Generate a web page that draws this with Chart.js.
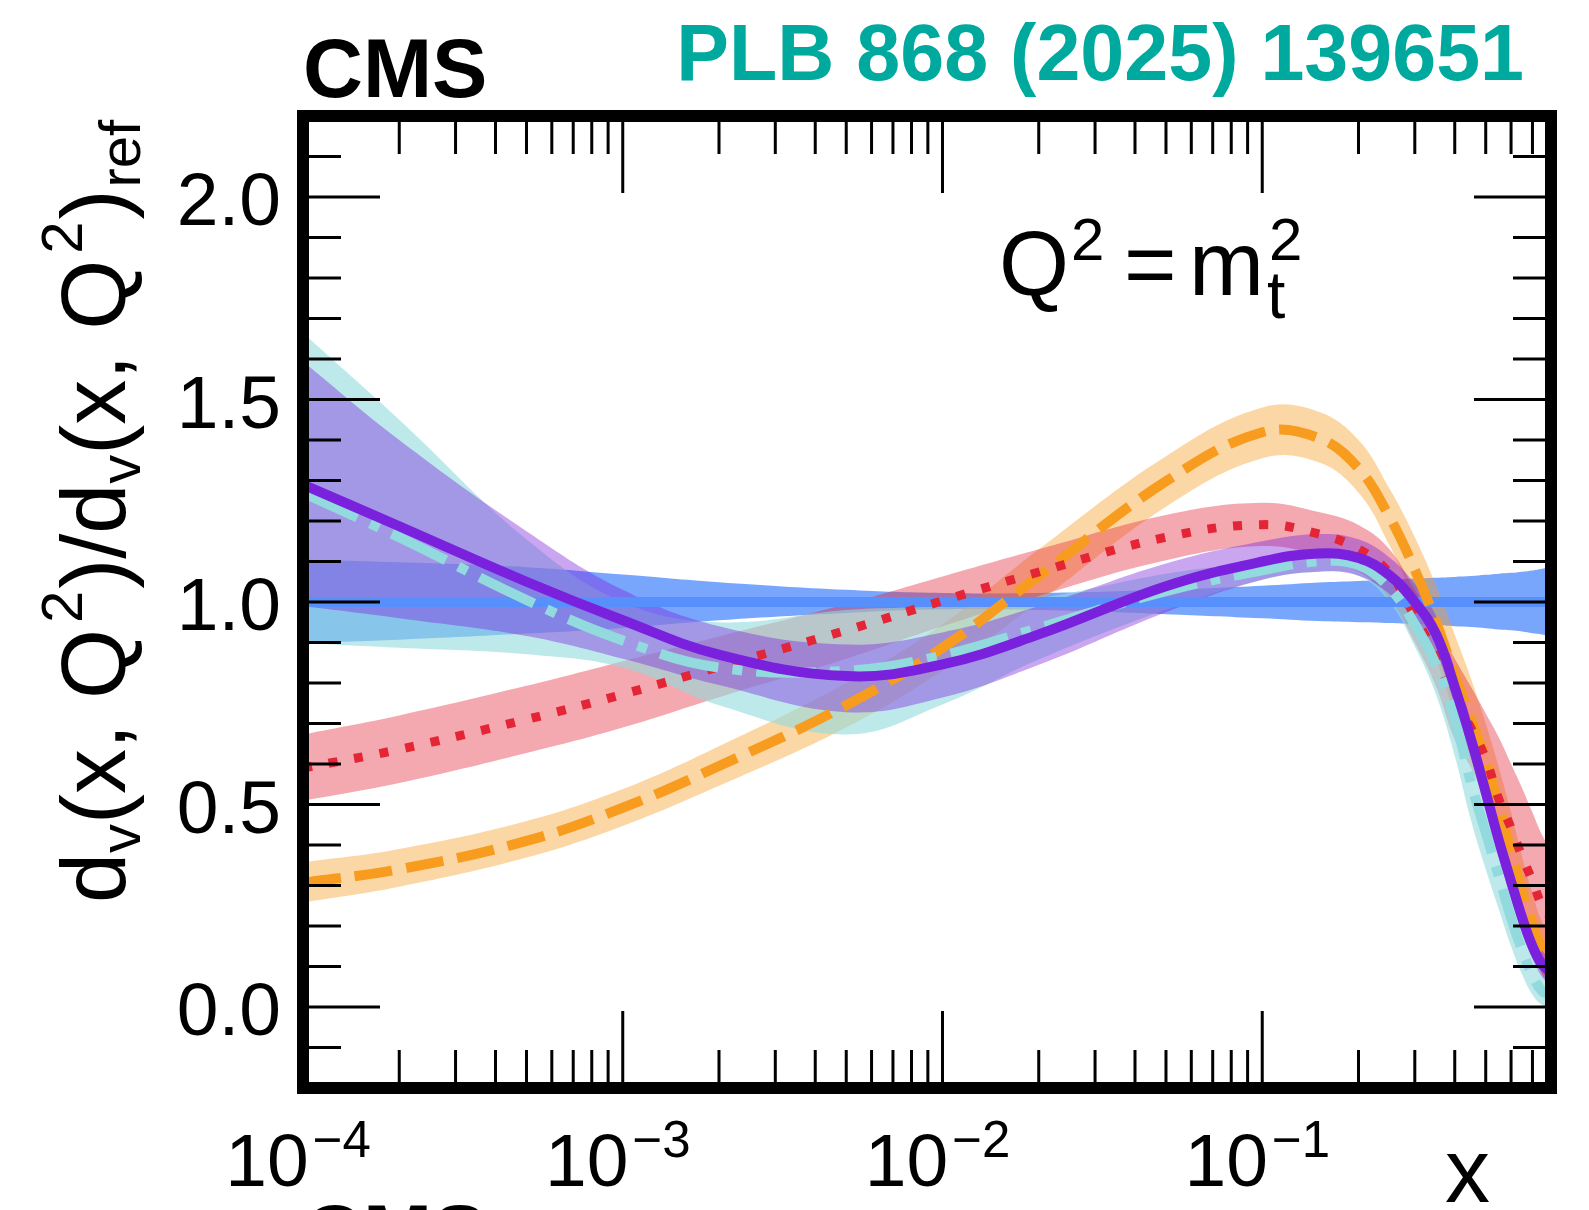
<!DOCTYPE html>
<html>
<head>
<meta charset="utf-8">
<script src="https://cdn.jsdelivr.net/npm/chart.js@4.4.1/dist/chart.umd.min.js"></script>
<style>
  html, body { margin: 0; padding: 0; background: #fff; }
  canvas { display: block; }
</style>
</head>
<body>
<canvas id="c" width="1589" height="1210"></canvas>
<script>
// d_v ratio to reference at Q^2 = m_t^2
const xs = [1e-4, 2e-4, 5e-4, 1e-3, 2e-3, 5e-3, 1e-2, 2e-2, 5e-2, 0.1, 0.15, 0.2, 0.25, 0.3, 0.35, 0.4, 0.45, 0.5, 0.55, 0.6, 0.65, 0.7, 0.75, 0.8];

// reference (blue)
const refMid = [1.0, 1.0, 1.0, 1.0, 1.0, 1.0, 1.0, 1.0, 1.0, 1.0, 1.0, 1.0, 1.0, 1.0, 1.0, 1.0, 1.0, 1.0, 1.0, 1.0, 1.0, 1.0, 1.0, 1.0];
const refLo  = [0.899, 0.907, 0.922, 0.936, 0.955, 0.973, 0.982, 0.98, 0.97, 0.96, 0.953, 0.95, 0.948, 0.945, 0.943, 0.94, 0.938, 0.935, 0.932, 0.93, 0.927, 0.923, 0.92, 0.915];
const refHi  = [1.105, 1.098, 1.086, 1.068, 1.049, 1.03, 1.022, 1.022, 1.03, 1.04, 1.048, 1.052, 1.055, 1.058, 1.06, 1.062, 1.064, 1.067, 1.07, 1.072, 1.075, 1.078, 1.082, 1.087];

// orange dashed
const orangeMid = [0.307, 0.34, 0.41, 0.492, 0.595, 0.745, 0.887, 1.064, 1.298, 1.419, 1.405, 1.33, 1.21, 1.08, 0.95, 0.82, 0.71, 0.61, 0.495, 0.385, 0.285, 0.205, 0.145, 0.12];
const orangeLo  = [0.258, 0.297, 0.369, 0.447, 0.546, 0.69, 0.83, 1.0, 1.235, 1.355, 1.345, 1.27, 1.14, 1.0, 0.86, 0.72, 0.61, 0.52, 0.4, 0.29, 0.2, 0.13, 0.08, 0.06];
const orangeHi  = [0.357, 0.39, 0.459, 0.538, 0.644, 0.8, 0.945, 1.13, 1.36, 1.48, 1.47, 1.4, 1.28, 1.16, 1.04, 0.92, 0.81, 0.7, 0.59, 0.48, 0.37, 0.28, 0.21, 0.18];

// red dotted
const redMid = [0.59, 0.636, 0.71, 0.772, 0.84, 0.93, 1.003, 1.074, 1.16, 1.191, 1.168, 1.131, 1.071, 0.965, 0.864, 0.759, 0.688, 0.613, 0.512, 0.442, 0.371, 0.311, 0.25, 0.22];
const redLo  = [0.509, 0.553, 0.627, 0.69, 0.765, 0.86, 0.94, 1.015, 1.103, 1.138, 1.115, 1.075, 1.01, 0.9, 0.79, 0.66, 0.59, 0.5, 0.37, 0.29, 0.21, 0.15, 0.08, 0.05];
const redHi  = [0.673, 0.72, 0.793, 0.854, 0.915, 0.995, 1.063, 1.13, 1.215, 1.245, 1.222, 1.19, 1.13, 1.03, 0.94, 0.86, 0.79, 0.725, 0.665, 0.6, 0.54, 0.48, 0.425, 0.39];

// cyan dash-dot
const cyanMid = [1.27, 1.16, 1.005, 0.905, 0.838, 0.83, 0.868, 0.936, 1.027, 1.078, 1.1, 1.091, 1.035, 0.945, 0.844, 0.713, 0.552, 0.431, 0.321, 0.22, 0.14, 0.079, 0.039, 0.03];
const cyanLo  = [0.899, 0.887, 0.871, 0.838, 0.745, 0.673, 0.747, 0.858, 0.981, 1.055, 1.075, 1.065, 1.0, 0.89, 0.77, 0.62, 0.46, 0.34, 0.24, 0.15, 0.08, 0.03, 0.005, 0.0];
const cyanHi  = [1.664, 1.45, 1.155, 1.0, 0.95, 0.98, 0.99, 1.01, 1.07, 1.1, 1.12, 1.115, 1.07, 0.99, 0.9, 0.78, 0.63, 0.51, 0.4, 0.29, 0.2, 0.13, 0.08, 0.07];

// purple solid
const purpleMid = [1.29, 1.187, 1.05, 0.955, 0.87, 0.817, 0.846, 0.92, 1.039, 1.1, 1.12, 1.109, 1.066, 1.0, 0.92, 0.79, 0.66, 0.53, 0.41, 0.31, 0.22, 0.15, 0.105, 0.085];
const purpleLo  = [0.99, 0.96, 0.916, 0.86, 0.795, 0.728, 0.764, 0.845, 0.975, 1.055, 1.075, 1.065, 1.02, 0.955, 0.875, 0.745, 0.615, 0.49, 0.37, 0.27, 0.185, 0.12, 0.075, 0.055];
const purpleHi  = [1.594, 1.4, 1.175, 1.03, 0.94, 0.895, 0.925, 0.99, 1.095, 1.15, 1.168, 1.155, 1.11, 1.045, 0.965, 0.835, 0.705, 0.575, 0.45, 0.35, 0.255, 0.185, 0.14, 0.115];

// axes
const X_MIN = 1e-4, X_MAX = 0.8;
const Y_MIN = -0.2, Y_MAX = 2.2;
const yTickValues = [0, 0.5, 1, 1.5, 2];
const yTickLabels = ['0.0', '0.5', '1.0', '1.5', '2.0'];
const xTickValues = [1e-4, 1e-3, 1e-2, 1e-1];
const xTickExps = ['\u22124', '\u22123', '\u22122', '\u22121'];

const FONT = "'Liberation Sans', Arial, Helvetica, sans-serif";
const TENSION = 0.4;

const pts = arr => xs.map((x, i) => ({ x, y: arr[i] }));

function band(lo, hi, color, order) {
  const common = { pointRadius: 0, borderWidth: 0, borderColor: 'rgba(0,0,0,0)', tension: TENSION, order, clip: 0 };
  return [
    { ...common, data: pts(hi), fill: '+1', backgroundColor: color },
    { ...common, data: pts(lo), fill: false }
  ];
}

function curve(mid, color, width, dash, order) {
  return {
    data: pts(mid), borderColor: color, borderWidth: width, borderDash: dash, borderCapStyle: 'butt',
    fill: false, pointRadius: 0, tension: TENSION, order, clip: 0
  };
}

// bands first (higher order = drawn underneath), then the central lines
const datasets = [
  ...band(refLo, refHi, 'rgba(87,144,252,0.8)', 100),
  ...band(orangeLo, orangeHi, 'rgba(248,156,32,0.4)', 90),
  ...band(redLo, redHi, 'rgba(228,37,54,0.4)', 80),
  ...band(cyanLo, cyanHi, 'rgba(146,218,221,0.6)', 70),
  ...band(purpleLo, purpleHi, 'rgba(122,33,221,0.4)', 60),
  curve(refMid, '#5790fc', 10, [], 50),
  curve(orangeMid, '#f89c20', 10, [38, 14], 40),
  curve(redMid, '#e42536', 9, [9, 17], 30),
  curve(cyanMid, '#92dadd', 10, [60, 14, 10, 14], 20),
  curve(purpleMid, '#7a21dd', 10, [], 10)
];

// rich text: parts drawn one after another; sub/superscripts via dy
function rich(ctx, x, y, parts, draw = true) {
  let cx = x;
  for (const p of parts) {
    if (p.x !== undefined) cx = p.x;
    cx += p.gap || 0;
    ctx.font = (p.bold ? 'bold ' : '') + p.size + 'px ' + FONT;
    if (draw) ctx.fillText(p.t, cx, y + (p.dy || 0));
    if (!p.hold) cx += ctx.measureText(p.t).width;
  }
  return cx - x;
}

const framePlugin = {
  id: 'frame',
  afterDraw(chart) {
    const { ctx, scales: { x, y } } = chart;
    const L = x.getPixelForValue(X_MIN), R = x.getPixelForValue(X_MAX);
    const T = y.getPixelForValue(Y_MAX), B = y.getPixelForValue(Y_MIN);
    ctx.save();
    ctx.strokeStyle = '#000';
    ctx.lineCap = 'butt';

    // y ticks, inward on both sides
    ctx.lineWidth = 3;
    for (let i = -1; i < 22; i++) {
      const py = y.getPixelForValue(i / 10);
      const len = i % 5 === 0 ? 77 : 38;
      ctx.beginPath();
      ctx.moveTo(L, py); ctx.lineTo(L + len, py);
      ctx.moveTo(R, py); ctx.lineTo(R - len, py);
      ctx.stroke();
    }
    // x ticks (log decades), inward top and bottom
    for (let e = -4; e <= -1; e++) {
      for (let m = 1; m <= 9; m++) {
        const v = m * Math.pow(10, e);
        if (v <= X_MIN * 1.001 || v >= X_MAX * 0.999) continue;
        const px = x.getPixelForValue(v);
        const len = m === 1 ? 77 : 38;
        ctx.beginPath();
        ctx.moveTo(px, B); ctx.lineTo(px, B - len);
        ctx.moveTo(px, T); ctx.lineTo(px, T + len);
        ctx.stroke();
      }
    }
    // frame
    ctx.lineWidth = 12;
    ctx.strokeRect(L, T, R - L, B - T);

    ctx.fillStyle = '#000';
    ctx.textBaseline = 'alphabetic';

    // y tick labels
    ctx.textAlign = 'right';
    ctx.font = '75px ' + FONT;
    yTickValues.forEach((v, i) => ctx.fillText(yTickLabels[i], 281, y.getPixelForValue(v) + 28));

    // x tick labels 10^n
    ctx.textAlign = 'left';
    xTickValues.forEach((v, i) => {
      const parts = [{ t: '10', size: 75 }, { t: xTickExps[i], size: 51, dy: -29, gap: 4 }];
      const w = rich(ctx, 0, 0, parts, false);
      rich(ctx, x.getPixelForValue(v) - w / 2 - 5, 1186, parts);
    });

    // axis titles
    ctx.font = '90px ' + FONT;
    ctx.fillText('x', 1445, 1202);

    ctx.save();
    ctx.translate(125, 903);
    ctx.rotate(-Math.PI / 2);
    rich(ctx, 0, 0, [
      { t: 'd', size: 90 }, { t: 'v', size: 58, dy: 15 },
      { t: '(x, Q', size: 90 }, { t: '2', size: 58, dy: -43, gap: 6 },
      { t: ')/d', size: 90, gap: 2 }, { t: 'v', size: 58, dy: 15 },
      { t: '(x, Q', size: 90 }, { t: '2', size: 58, dy: -43, gap: 6 },
      { t: ')', size: 90, gap: 2 }, { t: 'ref', size: 58, dy: 15, gap: 2 }
    ]);
    ctx.restore();

    // Q^2 = m_t^2
    rich(ctx, 999, 295, [
      { t: 'Q', size: 90 }, { t: '2', size: 60, dy: -35, gap: 2 },
      { t: '=', size: 90, x: 1124 }, { t: 'm', size: 90, x: 1189 },
      { t: 't', size: 66, dy: 23, gap: 3, hold: true }, { t: '2', size: 60, dy: -35, gap: 2 }
    ]);

    // header
    ctx.font = 'bold 83px ' + FONT;
    ctx.fillText('CMS', 303, 97);
    ctx.fillText('CMS', 303, 1263);
    ctx.textAlign = 'right';
    ctx.fillStyle = '#00a99d';
    ctx.font = 'bold 79px ' + FONT;
    ctx.fillText('PLB 868 (2025) 139651', 1524, 80);
    ctx.restore();
  }
};

new Chart(document.getElementById('c'), {
  type: 'line',
  data: { datasets },
  options: {
    responsive: false,
    devicePixelRatio: 1,
    animation: false,
    layout: { padding: { left: 303, right: 38, top: 116, bottom: 122 } },
    plugins: { legend: { display: false }, tooltip: { enabled: false } },
    scales: {
      x: { type: 'logarithmic', min: X_MIN, max: X_MAX, display: false },
      y: { type: 'linear', min: Y_MIN, max: Y_MAX, display: false }
    }
  },
  plugins: [framePlugin]
});
</script>
</body>
</html>
